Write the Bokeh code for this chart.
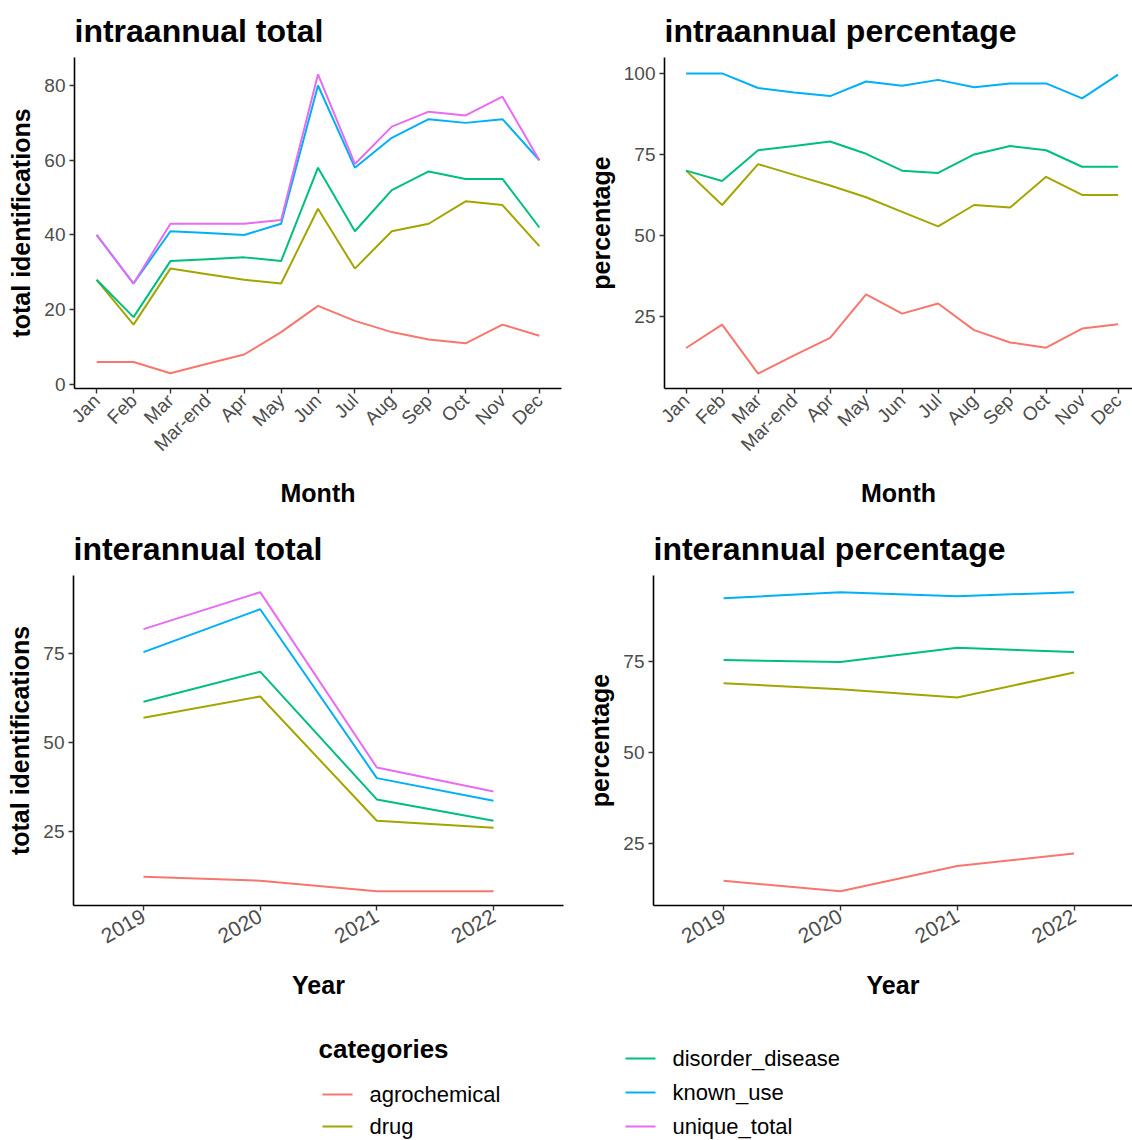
from bokeh.plotting import figure
from bokeh.models import Range1d, FixedTicker
from bokeh.layouts import column, row
from bokeh.embed import file_html
from bokeh.resources import INLINE
from bokeh.core.properties import value
import math

# ---------------- data ----------------
months = ["Jan", "Feb", "Mar", "Mar-end", "Apr", "May", "Jun", "Jul", "Aug", "Sep", "Oct", "Nov", "Dec"]
years = ["2019", "2020", "2021", "2022"]
categories = ["agrochemical", "drug", "disorder_disease", "known_use", "unique_total"]
colors = ["#F8766D", "#A3A500", "#00BF7D", "#00B0F6", "#E76BF3"]

# intraannual totals
intra_total_agrochemical = [6, 6, 3, 5.5, 8, 14, 21, 17, 14, 12, 11, 16, 13]
intra_total_drug = [28, 16, 31, 29.5, 28, 27, 47, 31, 41, 43, 49, 48, 37]
intra_total_disorder_disease = [28, 18, 33, 33.5, 34, 33, 58, 41, 52, 57, 55, 55, 42]
intra_total_known_use = [40, 27, 41, 40.5, 40, 43, 80, 58, 66, 71, 70, 71, 60]
intra_total_unique_total = [40, 27, 43, 43, 43, 44, 83, 59, 69, 73, 72, 77, 60]

# intraannual percentages
intra_pct_agrochemical = [15.3, 22.5, 7.4, 13.0, 18.4, 31.8, 25.9, 29.0, 20.8, 17.0, 15.4, 21.3, 22.6]
intra_pct_drug = [70.0, 59.4, 72.0, 68.7, 65.4, 61.8, 57.3, 52.8, 59.4, 58.6, 68.1, 62.5, 62.5]
intra_pct_disorder_disease = [70.0, 66.8, 76.3, 77.6, 79.0, 75.2, 70.0, 69.3, 75.0, 77.6, 76.3, 71.2, 71.2]
intra_pct_known_use = [100.0, 100.0, 95.5, 94.1, 93.0, 97.5, 96.2, 98.0, 95.7, 96.9, 96.9, 92.3, 99.6]

# interannual totals
inter_total_agrochemical = [12.2, 11.1, 8.1, 8.1]
inter_total_drug = [57, 63, 28, 26]
inter_total_disorder_disease = [61.5, 70, 34, 28]
inter_total_known_use = [75.5, 87.6, 40, 33.6]
inter_total_unique_total = [82, 92.4, 43, 36.2]

# interannual percentages
inter_pct_agrochemical = [14.7, 11.8, 18.8, 22.2]
inter_pct_drug = [69.1, 67.5, 65.2, 72.1]
inter_pct_disorder_disease = [75.5, 75.0, 78.9, 77.7]
inter_pct_known_use = [92.5, 94.2, 93.1, 94.2]

FONT = "Liberation Sans"


def make_fig(title, w, h, xr, yr, mbl, mbr, mbt, mbb, xlabels, xlabel, ylabel,
             yticks, angle, xstandoff, xfont):
    p = figure(width=w, height=h, x_range=Range1d(*xr), y_range=Range1d(*yr),
               output_backend="svg", toolbar_location=None,
               min_border_left=mbl, min_border_right=mbr,
               min_border_top=mbt, min_border_bottom=mbb)
    p.title.text = title
    p.title.text_font = FONT
    p.title.text_font_size = "32px"
    p.title.text_font_style = "bold"
    p.title.text_color = "black"
    p.title.align = "left"
    p.title.offset = 0
    p.title.standoff = 17
    p.outline_line_color = None
    p.grid.visible = False
    p.background_fill_color = "white"
    p.border_fill_color = "white"

    p.xaxis.ticker = FixedTicker(ticks=list(range(len(xlabels))))
    p.xaxis.major_label_overrides = {i: lab for i, lab in enumerate(xlabels)}
    p.xaxis.major_label_orientation = angle
    p.yaxis.ticker = FixedTicker(ticks=yticks)
    for ax in (p.xaxis, p.yaxis):
        ax.axis_line_color = "black"
        ax.axis_line_width = 1.6
        ax.major_tick_line_color = "#333333"
        ax.major_tick_line_width = 1.4
        ax.major_tick_out = 5
        ax.major_tick_in = 0
        ax.minor_tick_line_color = None
        ax.major_label_text_font = FONT
        ax.major_label_text_font_size = "19px"
        ax.major_label_text_color = "#4D4D4D"
        ax.major_label_standoff = 4
        ax.axis_label_text_font = FONT
        ax.axis_label_text_font_size = "25px"
        ax.axis_label_text_font_style = "bold"
        ax.axis_label_text_color = "black"
    p.xaxis.major_label_text_font_size = xfont
    p.xaxis.axis_label = xlabel
    p.yaxis.axis_label = ylabel
    p.xaxis.axis_label_standoff = xstandoff
    p.yaxis.axis_label_standoff = 6
    return p


def add_lines(p, xs, series):
    for ys, c in zip(series, colors):
        p.line(xs, ys, line_color=c, line_width=2.0)


mx = list(range(len(months)))
yx = list(range(len(years)))

tl = make_fig("intraannual total", 583, 520, (-0.6, 12.6), (-1.1, 87.5),
              74, 22, 57, 132, months, "Month", "total identifications",
              [0, 20, 40, 60, 80], math.pi / 4, 14, "19px")
add_lines(tl, mx, [intra_total_agrochemical, intra_total_drug, intra_total_disorder_disease,
                   intra_total_known_use, intra_total_unique_total])

tr = make_fig("intraannual percentage", 549, 520, (-0.6, 12.4), (2.8, 104.9),
              73, 0, 57, 132, months, "Month", "percentage",
              [25, 50, 75, 100], math.pi / 4, 14, "19px")
add_lines(tr, mx, [intra_pct_agrochemical, intra_pct_drug, intra_pct_disorder_disease,
                   intra_pct_known_use])

bl = make_fig("interannual total", 583, 485, (-0.6, 3.6), (4.1, 97.1),
              73, 20, 54, 100, years, "Year", "total identifications",
              [25, 50, 75], math.pi / 6, 18, "21px")
add_lines(bl, yx, [inter_total_agrochemical, inter_total_drug, inter_total_disorder_disease,
                   inter_total_known_use, inter_total_unique_total])

br = make_fig("interannual percentage", 549, 485, (-0.6, 3.5), (7.9, 98.8),
              70, 0, 54, 100, years, "Year", "percentage",
              [25, 50, 75], math.pi / 6, 18, "21px")
add_lines(br, yx, [inter_pct_agrochemical, inter_pct_drug, inter_pct_disorder_disease,
                   inter_pct_known_use])

# ---------------- legend ----------------
LW, LH = 1132, 135
leg = figure(width=LW, height=LH, x_range=Range1d(0, LW), y_range=Range1d(LH, 0),
             output_backend="svg", toolbar_location=None,
             min_border_left=0, min_border_right=0, min_border_top=0, min_border_bottom=0)
leg.axis.visible = False
leg.grid.visible = False
leg.outline_line_color = None

leg.text(x=[318], y=[43], text=["categories"], text_font=value(FONT),
         text_font_size="26px", text_font_style="bold", text_color="black",
         text_baseline="middle", text_align="left")

key_x = [322, 322, 625, 625, 625]
key_y = [89, 121, 53, 87, 121]
for cat, c, kx, ky in zip(categories, colors, key_x, key_y):
    leg.segment(x0=[kx], y0=[ky], x1=[kx + 30], y1=[ky], line_color=c, line_width=2.0)
    leg.text(x=[kx + 47], y=[ky], text=[cat], text_font=value(FONT),
             text_font_size="22px", text_color="black",
             text_baseline="middle", text_align="left")

layout = column(row(tl, tr), row(bl, br), leg)
open("out.html", "w").write(file_html(layout, INLINE))
